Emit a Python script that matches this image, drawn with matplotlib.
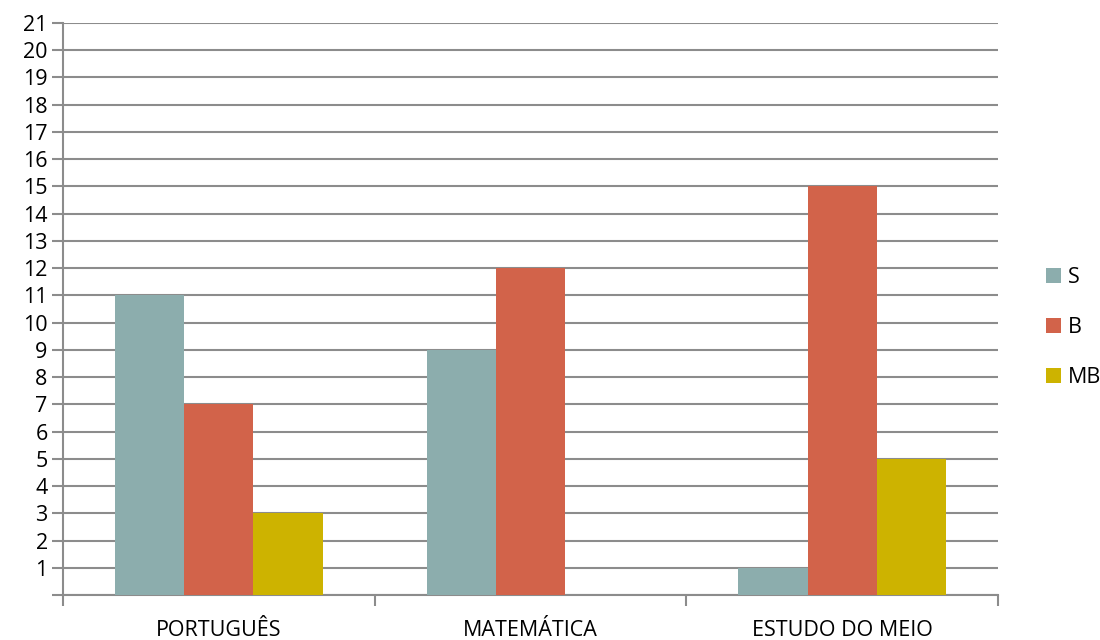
import numpy as np
import matplotlib
import matplotlib.pyplot as plt
from matplotlib.ticker import FixedLocator

matplotlib.use('Agg')

categories = ['PORTUGUÊS', 'MATEMÁTICA', 'ESTUDO DO MEIO']
series_names = ['S', 'B', 'MB']
s_values = [11, 9, 1]
b_values = [7, 12, 15]
mb_values = [3, 0, 5]
colors = ['#8CADAD', '#D2634A', '#CDB300']

plt.rcParams['font.family'] = ['Open Sans', 'DejaVu Sans']

fig = plt.figure(figsize=(11, 6.4), dpi=100)
ax = fig.add_axes([63 / 1100, 1 - 595 / 640, 935 / 1100, 572 / 640])

x = np.arange(len(categories))
width = 0.222
grid_col = '#8C8C8C'
fs = 15.5

for i, (vals, name) in enumerate(zip([s_values, b_values, mb_values], series_names)):
    ax.bar(x + (i - 1) * width, vals, width, color=colors[i], label=name, zorder=3)

ax.set_xlim(-0.5, len(categories) - 0.5)
ax.set_ylim(0, 21)
ax.set_yticks(range(0, 22))
ax.set_yticklabels([''] + [str(v) for v in range(1, 22)])
ax.yaxis.grid(True, color=grid_col, linewidth=1.5, zorder=0)

# category labels centred, ticks on boundaries
ax.set_xticks(x)
ax.set_xticklabels(categories)
ax.tick_params(axis='x', length=0, pad=18, labelsize=fs)
ax.xaxis.set_minor_locator(FixedLocator(np.arange(-0.5, len(categories), 1)))
ax.tick_params(axis='x', which='minor', length=8, width=1.5, color=grid_col)
ax.tick_params(axis='y', length=8, width=1.5, color=grid_col, labelsize=fs, pad=3)

for side in ['top', 'right']:
    ax.spines[side].set_visible(False)
for side in ['left', 'bottom']:
    ax.spines[side].set_color(grid_col)
    ax.spines[side].set_linewidth(1.5)

ax.legend(loc='center left', bbox_to_anchor=(1.04, 0.467), frameon=False,
          fontsize=fs, handlelength=0.7, handleheight=0.7, handletextpad=0.3,
          labelspacing=1.35, borderpad=0)

fig.savefig('out.png', dpi=100)
